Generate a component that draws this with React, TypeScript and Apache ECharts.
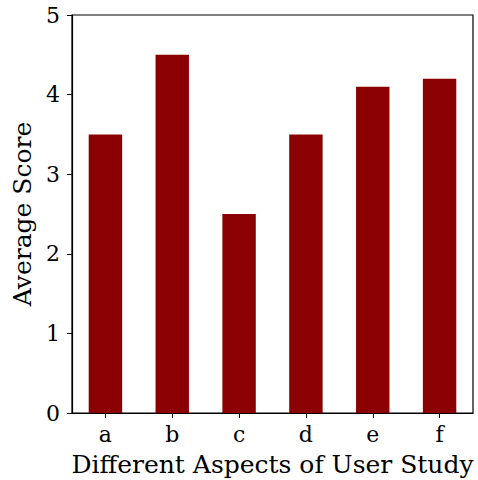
import React, { useEffect, useRef } from "react";
import * as echarts from "echarts";

const categories = ["a", "b", "c", "d", "e", "f"];
const scores = [3.5, 4.5, 2.5, 3.5, 4.1, 4.2];
const yTicks = [0, 1, 2, 3, 4, 5];

const FONT = "DejaVu Serif";

export default function App() {
  const ref = useRef<HTMLDivElement>(null);
  useEffect(() => {
    const chart = echarts.init(ref.current!, null, { renderer: "svg" });
    chart.setOption({
      animation: false,
      backgroundColor: "#fff",
      grid: {
        left: 72,
        right: 5,
        top: 15,
        bottom: 67,
        outerBoundsMode: "none",
        containLabel: false,
        show: true,
        borderColor: "#000",
        borderWidth: 1.2,
        backgroundColor: "transparent",
      },
      xAxis: {
        type: "category",
        data: categories,
        name: "Different Aspects of User Study",
        nameLocation: "middle",
        nameGap: 39,
        nameTextStyle: { fontFamily: FONT, fontSize: 25, color: "#000" },
        axisLine: { show: true, lineStyle: { color: "#000", width: 1.2 } },
        axisTick: { show: true, alignWithLabel: true, length: 5, lineStyle: { color: "#000", width: 1 } },
        axisLabel: { fontFamily: FONT, fontSize: 22, color: "#000", margin: 10 },
        splitLine: { show: false },
      },
      yAxis: {
        type: "value",
        min: yTicks[0],
        max: yTicks[yTicks.length - 1],
        interval: 1,
        name: "Average Score",
        nameLocation: "middle",
        nameGap: 36,
        nameTextStyle: { fontFamily: FONT, fontSize: 25, color: "#000" },
        axisLine: { show: true, lineStyle: { color: "#000", width: 1.2 } },
        axisTick: { show: true, length: 5, lineStyle: { color: "#000", width: 1 } },
        axisLabel: { fontFamily: FONT, fontSize: 22, color: "#000", margin: 12 },
        splitLine: { show: false },
      },
      series: [
        {
          type: "bar",
          data: scores,
          barWidth: "50%",
          itemStyle: { color: "#8B0000" },
        },
      ],
    });
    return () => chart.dispose();
  }, []);
  return (
    <div
      ref={ref}
      style={{ position: "fixed", left: 0, top: 0, width: 478, height: 480 }}
    />
  );
}
